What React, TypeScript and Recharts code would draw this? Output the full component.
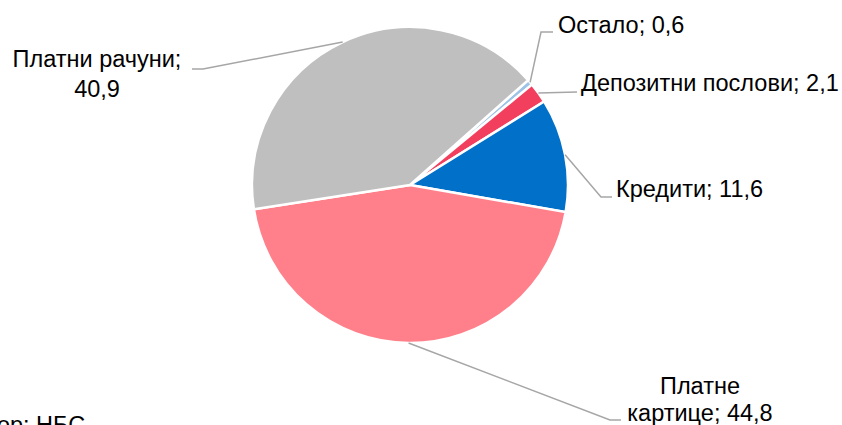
import React from "react";
import { PieChart, Pie, Cell } from "recharts";

const categories = ["Остало", "Депозитни послови", "Кредити", "Платне картице", "Платни рачуни"];
const values = [0.6, 2.1, 11.6, 44.8, 40.9];
const valueLabels = ["0,6", "2,1", "11,6", "44,8", "40,9"];
const colors = ["#9DC3E6", "#F23F5E", "#0070C8", "#FF808B", "#BFBFBF"];
const sourceText = "Извор: НБС";

// label text lines per slice
const labelLines: string[][] = [
  ["Остало; 0,6"],
  ["Депозитни послови; 2,1"],
  ["Кредити; 11,6"],
  ["Платне", "картице; 44,8"],
  ["Платни рачуни;", "40,9"],
];

// leader layout relative to pie centre: elbow, end, text position, anchor
const labelLayout = [
  { elbow: [131, -153], end: [143, -153], tx: 148, ty: [-152], anchor: "start" },
  { elbow: [167, -93], end: [167, -93], tx: 171, ty: [-94], anchor: "start" },
  { elbow: [191, 12], end: [202, 12], tx: 206, ty: [12], anchor: "start" },
  { elbow: [200, 235], end: [211, 235], tx: 290, ty: [209, 236], anchor: "middle" },
  { elbow: [-207, -116], end: [-218, -116], tx: -313, ty: [-118, -88], anchor: "middle" },
];

const data = categories.map((c, i) => ({ name: c, value: values[i], label: valueLabels[i] }));

const FONT = "'Liberation Sans', Arial, sans-serif";
const FS = 23.5;
const RAD = Math.PI / 180;

const renderLabel = (props: any) => {
  const { cx, cy, midAngle, outerRadius, index } = props;
  const lay = labelLayout[index];
  const sx = cx + outerRadius * Math.cos(-midAngle * RAD);
  const sy = cy + outerRadius * Math.sin(-midAngle * RAD);
  const pts = `${sx},${sy} ${cx + lay.elbow[0]},${cy + lay.elbow[1]} ${cx + lay.end[0]},${cy + lay.end[1]}`;
  return (
    <g key={`lbl-${index}`}>
      <polyline points={pts} fill="none" stroke="#A6A6A6" strokeWidth={1.5} />
      {labelLines[index].map((t, j) => (
        <text
          key={j}
          x={cx + lay.tx}
          y={cy + lay.ty[j]}
          textAnchor={lay.anchor as any}
          fontFamily={FONT}
          fontSize={FS}
          fill="#000"
        >
          {t}
        </text>
      ))}
    </g>
  );
};

export default function App() {
  return (
    <div style={{ position: "absolute", left: 0, top: 0, width: 842, height: 425, overflow: "hidden", background: "#fff" }}>
      <PieChart width={842} height={425} margin={{ top: 0, right: 0, bottom: 0, left: 0 }}>
        <Pie
          data={data}
          dataKey="value"
          nameKey="name"
          cx={410}
          cy={185}
          outerRadius={158}
          innerRadius={0}
          startAngle={41.6}
          endAngle={-318.4}
          stroke="#FFFFFF"
          strokeWidth={2.5}
          label={renderLabel}
          labelLine={false}
          isAnimationActive={false}
        >
          {data.map((d, i) => (
            <Cell key={d.name} fill={colors[i]} />
          ))}
        </Pie>
      </PieChart>
      <div
        style={{
          position: "absolute",
          left: -43,
          top: 414,
          fontFamily: FONT,
          fontSize: FS,
          lineHeight: `${FS}px`,
          whiteSpace: "nowrap",
          color: "#000",
        }}
      >
        {sourceText}
      </div>
    </div>
  );
}
